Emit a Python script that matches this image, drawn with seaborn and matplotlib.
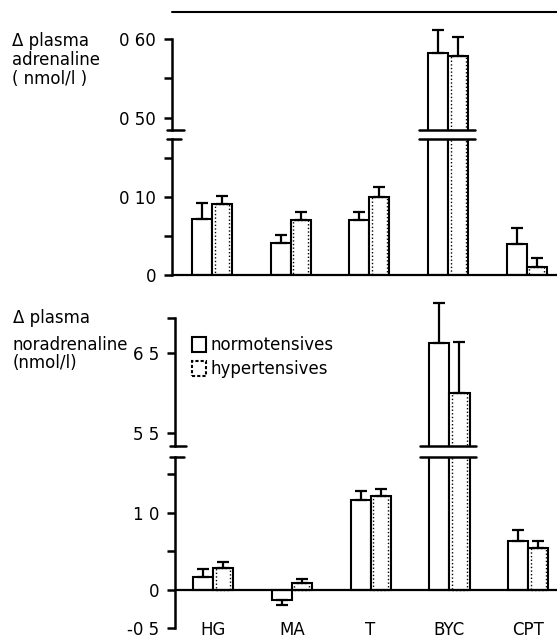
import numpy as np
import pandas as pd
import matplotlib
matplotlib.use("Agg")
import matplotlib.pyplot as plt
import seaborn as sns
from matplotlib.patches import Patch, Rectangle
from matplotlib.lines import Line2D

# ---------------------------------------------------------------- data
tests = ["HG", "MA", "T", "BYC", "CPT"]
groups = ["normotensives", "hypertensives"]

# change in plasma adrenaline (nmol/l), mean and SEM
adr_normo = [0.072, 0.041, 0.070, 0.582, 0.040]
adr_normo_se = [0.020, 0.010, 0.011, 0.029, 0.020]
adr_hyper = [0.091, 0.071, 0.100, 0.578, 0.010]
adr_hyper_se = [0.010, 0.010, 0.013, 0.024, 0.012]

# change in plasma noradrenaline (nmol/l), mean and SEM
nor_normo = [0.16, -0.13, 1.17, 6.62, 0.63]
nor_normo_se = [0.11, 0.07, 0.12, 0.50, 0.15]
nor_hyper = [0.28, 0.08, 1.22, 6.00, 0.54]
nor_hyper_se = [0.08, 0.06, 0.09, 0.64, 0.09]

adr_hi_ticks = [0.50, 0.55, 0.60]
adr_hi_labels = ["0 50", "", "0 60"]
adr_lo_ticks = [0.0, 0.05, 0.10, 0.15]
adr_lo_labels = ["0", "", "0 10", ""]
nor_hi_ticks = [5.5, 6.5]
nor_hi_labels = ["5 5", "6 5"]
nor_lo_ticks = [-0.5, 0.0, 0.5, 1.0, 1.5]
nor_lo_labels = ["-0 5", "0", "", "1 0", ""]

broken_test = "BYC"


def long_frame(normo, hyper):
    return pd.DataFrame({
        "test": tests * 2,
        "group": [groups[0]] * len(tests) + [groups[1]] * len(tests),
        "value": list(normo) + list(hyper),
    })


# ---------------------------------------------------------------- style
sns.set_style("ticks")
plt.rcParams["font.family"] = ["DejaVu Sans"]
plt.rcParams["axes.linewidth"] = 1.8
for key in ["text.color", "axes.labelcolor", "xtick.color", "ytick.color",
            "axes.edgecolor"]:
    plt.rcParams[key] = "black"

W, H = 557, 639
fig = plt.figure(figsize=(W / 100, H / 100), dpi=100)


def px_axes(left, top, right, bottom):
    return fig.add_axes([left / W, 1 - bottom / H, (right - left) / W, (bottom - top) / H])


def draw_panel(ax, df, means, ses, ylim, ticks, labels, part, split):
    sns.barplot(data=df, x="test", y="value", hue="group", order=tests,
                hue_order=groups, palette=["white", "white"], saturation=1,
                edgecolor="black", linewidth=1.5, width=0.51, errorbar=None,
                legend=False, ax=ax)
    # stippled inner outline on the hypertensive bars
    for bar in ax.containers[1]:
        x, y = bar.get_x(), bar.get_y()
        w, h = bar.get_width(), bar.get_height()
        inset = w * 0.13
        ax.add_patch(Rectangle((x + inset, y), w - 2 * inset, h, fill=False,
                               edgecolor="black", linewidth=1.0,
                               linestyle=(0, (1, 1.6))))
    # one-sided SEM bars, drawn in the segment that holds the bar top
    for k, (vals, errs) in enumerate(zip(means, ses)):
        centers = [b.get_x() + b.get_width() / 2 for b in ax.containers[k]]
        for c, v, e in zip(centers, vals, errs):
            upper = v > split
            if (part == "hi") != upper:
                continue
            yerr = [[0], [e]] if v >= 0 else [[e], [0]]
            ax.errorbar(c, v, yerr=yerr, fmt="none", ecolor="black",
                        elinewidth=1.6, capsize=4.5, capthick=1.6, clip_on=False)
    ax.set_ylim(*ylim)
    ax.set_yticks(ticks)
    ax.set_yticklabels(labels)
    ax.set_xlabel("")
    ax.set_ylabel("")
    for s in ["top", "right", "bottom"]:
        ax.spines[s].set_visible(False)
    ax.tick_params(axis="y", direction="out", length=6, width=1.8, pad=5.5,
                   labelsize=12)
    ax.tick_params(axis="x", length=0)
    b = tests.index(broken_test)
    if part == "hi":
        yb = ylim[0]
        ax.plot([-0.012, 0.03], [0, 0], transform=ax.transAxes, color="black",
                lw=1.8, clip_on=False)
    else:
        yb = ylim[1]
        ax.plot([-0.012, 0.024], [1, 1], transform=ax.transAxes, color="black",
                lw=1.8, clip_on=False)
        ax.axhline(0, color="black", lw=1.6, clip_on=False, zorder=3)
    ax.plot([b - 0.37, b + 0.34], [yb, yb], color="black", lw=1.8, clip_on=False,
            zorder=4)


# ---------------------------------------------------------------- adrenaline
adr_df = long_frame(adr_normo, adr_hyper)
adr_means = [adr_normo, adr_hyper]
adr_ses = [adr_normo_se, adr_hyper_se]
adr_split = 0.1744
ax1 = px_axes(172, 39, 557, 130)
draw_panel(ax1, adr_df, adr_means, adr_ses, (0.4848, 0.60), adr_hi_ticks,
           adr_hi_labels, "hi", adr_split)
ax2 = px_axes(172, 139, 557, 275)
draw_panel(ax2, adr_df, adr_means, adr_ses, (0.0, adr_split), adr_lo_ticks,
           adr_lo_labels, "lo", adr_split)
for ax in (ax1, ax2):
    ax.set_xlim(-0.508, 4.384)
    ax.set_xticks([])

# ---------------------------------------------------------------- noradrenaline
nor_df = long_frame(nor_normo, nor_hyper)
nor_means = [nor_normo, nor_hyper]
nor_ses = [nor_normo_se, nor_hyper_se]
nor_split = 1.727
nor_top = 6.9375
ax3 = px_axes(175, 318, 557, 446)
draw_panel(ax3, nor_df, nor_means, nor_ses, (5.3375, nor_top),
           nor_hi_ticks + [nor_top], nor_hi_labels + [""], "hi", nor_split)
ax4 = px_axes(175, 457, 557, 628)
draw_panel(ax4, nor_df, nor_means, nor_ses, (-0.5, nor_split), nor_lo_ticks,
           nor_lo_labels, "lo", nor_split)
for ax in (ax3, ax4):
    ax.set_xlim(-0.482, 4.365)
ax3.set_xticks([])
ax4.set_xticks(range(len(tests)))
ax4.set_xticklabels(tests, fontsize=12)
ax4.tick_params(axis="x", length=0, pad=-5)

# ---------------------------------------------------------------- labels
for txt, y in [("\u0394 plasma", 46), ("adrenaline", 65), ("( nmol/l )", 84)]:
    fig.text(12 / W, 1 - y / H, txt, ha="left", va="baseline", fontsize=12)
for txt, y in [("\u0394 plasma", 323), ("noradrenaline", 350), ("(nmol/l)", 368)]:
    fig.text(13 / W, 1 - y / H, txt, ha="left", va="baseline", fontsize=12)

handles = [
    Patch(facecolor="white", edgecolor="black", linewidth=1.5, label=groups[0]),
    Patch(facecolor="white", edgecolor="black", linewidth=1.5,
          linestyle=(0, (1.5, 1)), label=groups[1]),
]
fig.legend(handles=handles, loc="upper left", bbox_to_anchor=(192 / W, 1 - 336 / H),
           frameon=False, fontsize=12, handlelength=0.85, handleheight=1.0,
           handletextpad=0.25, labelspacing=0.35, borderpad=0, borderaxespad=0)

fig.add_artist(Line2D([172 / W, 1.0], [1 - 12 / H, 1 - 12 / H], color="black", lw=1.5))

fig.savefig("out.png", dpi=100)
